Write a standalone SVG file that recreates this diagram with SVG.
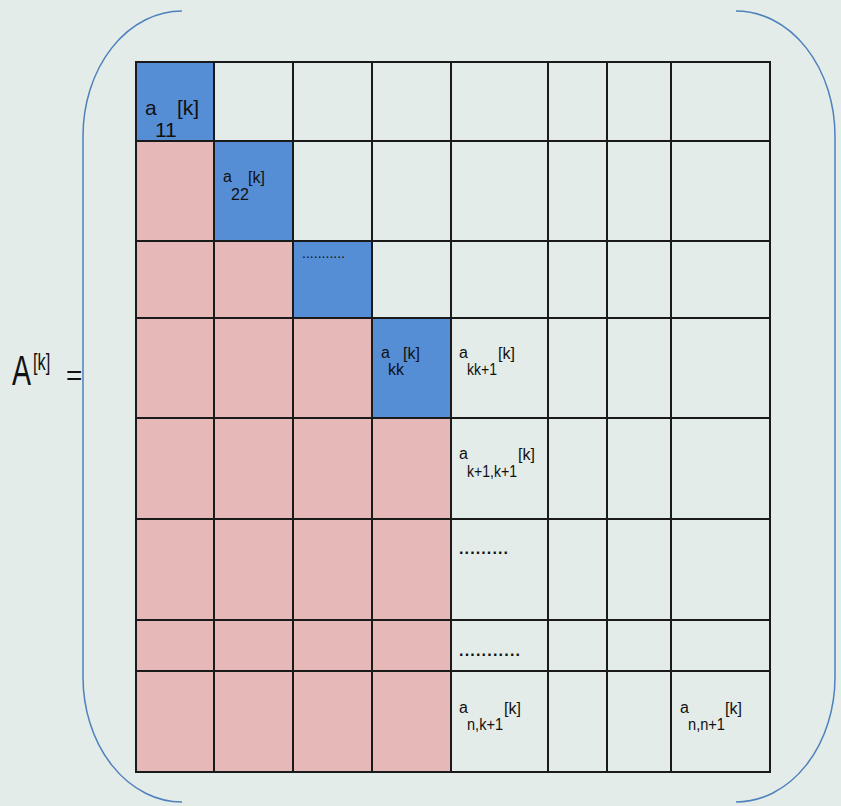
<svg xmlns="http://www.w3.org/2000/svg" width="841" height="806" viewBox="0 0 841 806">
<style>
.t{font-family:"Liberation Sans",Arial,sans-serif;fill:#111;}
.b{fill:#558ED5;}
.p{fill:#E6B9B8;}
.g{stroke:#1a1a1a;stroke-width:2;fill:none;}
.br{stroke:#4F81BD;stroke-width:1.5;fill:none;}
</style>
<rect width="841" height="806" fill="#E3ECE9"/>
<g id="brackets">
<path class="br" d="M182,11 A99,125 0 0 0 83,136 L83,677 A99,125 0 0 0 182,802"/>
<path class="br" d="M736,11 A99,125 0 0 1 835,136 L835,677 A99,125 0 0 1 736,802"/>
</g>
<g id="cells">
<rect class="b" x="136" y="62" width="78" height="79"/>
<rect class="b" x="214" y="141" width="79" height="100"/>
<rect class="b" x="293" y="241" width="79" height="77"/>
<rect class="b" x="372" y="318" width="79" height="100"/>
<rect class="p" x="136" y="141" width="78" height="100"/>
<rect class="p" x="136" y="241" width="157" height="77"/>
<rect class="p" x="136" y="318" width="236" height="100"/>
<rect class="p" x="136" y="418" width="315" height="354"/>
</g>
<g id="grid">
<rect class="g" x="136" y="62" width="634" height="710"/>
<path class="g" d="M214,62V772M293,62V772M372,62V772M451,62V772M548,62V772M607,62V772M671,62V772"/>
<path class="g" d="M136,141H770M136,241H770M136,318H770M136,418H770M136,519H770M136,620H770M136,671H770"/>
</g>
<g id="label-A">
<text class="t" transform="translate(12,385) scale(0.68,1)" font-size="42">A<tspan x="31" dy="-15" font-size="24">[k]</tspan></text>
<text class="t" x="66" y="385" font-size="28">=</text>
</g>
<g id="a11">
<text class="t" x="145" y="115" font-size="21">a</text>
<text class="t" x="155" y="137" font-size="21">11</text>
<text class="t" x="177" y="115" font-size="21">[k]</text>
</g>
<g id="a22">
<text class="t" x="223" y="182" font-size="16">a</text>
<text class="t" x="231" y="200" font-size="16">22</text>
<text class="t" x="248" y="183" font-size="16">[k]</text>
</g>
<g id="dots1"><text class="t" x="302" y="258" font-size="14" textLength="43">...........</text></g>
<g id="akk">
<text class="t" x="381" y="358" font-size="16">a</text>
<text class="t" x="388" y="375" font-size="16">kk</text>
<text class="t" x="403" y="359" font-size="16">[k]</text>
</g>
<g id="akk1">
<text class="t" x="459" y="358" font-size="16">a</text>
<text class="t" x="467" y="375" font-size="16" textLength="30" lengthAdjust="spacingAndGlyphs">kk+1</text>
<text class="t" x="498" y="359" font-size="16">[k]</text>
</g>
<g id="ak1k1">
<text class="t" x="459" y="459" font-size="16">a</text>
<text class="t" x="467" y="477" font-size="16" textLength="50" lengthAdjust="spacingAndGlyphs">k+1,k+1</text>
<text class="t" x="518" y="460" font-size="16">[k]</text>
</g>
<g id="dots2"><text class="t" x="459" y="554" font-size="16" font-weight="bold" textLength="49">.........</text></g>
<g id="dots3"><text class="t" x="459" y="656" font-size="16" font-weight="bold" textLength="61">...........</text></g>
<g id="ank1">
<text class="t" x="459" y="713" font-size="16">a</text>
<text class="t" x="467" y="730" font-size="16" textLength="36" lengthAdjust="spacingAndGlyphs">n,k+1</text>
<text class="t" x="504" y="714" font-size="16">[k]</text>
</g>
<g id="ann1">
<text class="t" x="680" y="713" font-size="16">a</text>
<text class="t" x="688" y="730" font-size="16" textLength="37" lengthAdjust="spacingAndGlyphs">n,n+1</text>
<text class="t" x="725" y="714" font-size="16">[k]</text>
</g>
</svg>
